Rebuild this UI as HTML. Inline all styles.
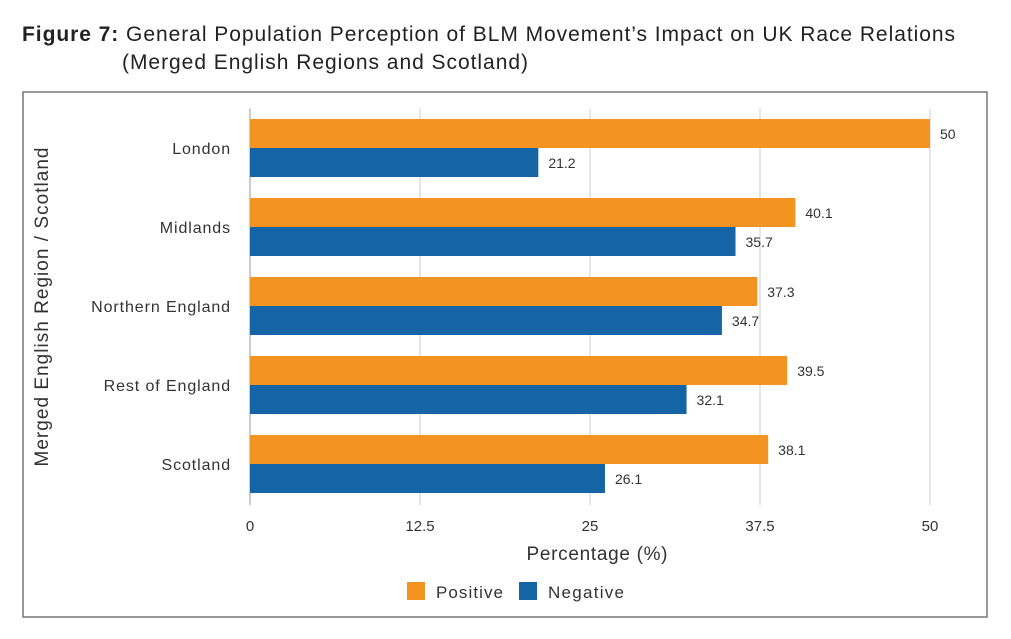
<!DOCTYPE html>
<html><head><meta charset="utf-8"><style>
body{margin:0;background:#fff;width:1011px;height:639px;overflow:hidden;font-family:"Liberation Sans",sans-serif}
svg{position:absolute;left:0;top:0}
</style></head><body>
<svg width="1011" height="639">
<text x="22" y="41" font-size="21" fill="#222" textLength="933" lengthAdjust="spacing"><tspan font-weight="bold">Figure 7:</tspan> General Population Perception of BLM Movement’s Impact on UK Race Relations</text>
<text x="122" y="69" font-size="21" fill="#222" textLength="406" lengthAdjust="spacing">(Merged English Regions and Scotland)</text>
<rect x="23" y="92" width="964" height="525" fill="none" stroke="#777" stroke-width="1.5"/>
<g id="grid"></g><g id="bars"></g><g id="labels"></g>
<text transform="translate(48,307) rotate(-90)" text-anchor="middle" font-size="19" fill="#333" textLength="319" lengthAdjust="spacing">Merged English Region / Scotland</text>
<text x="597" y="560" text-anchor="middle" font-size="19" fill="#333" textLength="141" lengthAdjust="spacing">Percentage (%)</text>
<rect x="407" y="582" width="18" height="18" fill="#F39322"/>
<text x="436" y="598" font-size="17" fill="#333" textLength="67" lengthAdjust="spacing">Positive</text>
<rect x="519" y="582" width="18" height="18" fill="#1565A6"/>
<text x="548" y="598" font-size="17" fill="#333" textLength="76" lengthAdjust="spacing">Negative</text>
</svg>
<script>
const categories=["London","Midlands","Northern England","Rest of England","Scotland"];
const positive=[50,40.1,37.3,39.5,38.1];
const negative=[21.2,35.7,34.7,32.1,26.1];
const ticks=[0,12.5,25,37.5,50];
const tickLabels=["0","12.5","25","37.5","50"];
const NS="http://www.w3.org/2000/svg";
const x=v=>250+v*13.6;
const top0=108.5,band=79;
function mk(tag,attrs,parent,txt){const e=document.createElementNS(NS,tag);for(const k in attrs)e.setAttribute(k,attrs[k]);if(txt!==undefined)e.textContent=txt;document.getElementById(parent).appendChild(e);return e;}
ticks.forEach((t,i)=>{
 const g=mk('line',{x1:x(t),x2:x(t),y1:top0,y2:505,stroke:i==0?'#999':'#ccc','stroke-width':1},'grid');
 
 
 const l=mk('text',{x:x(t),y:531,'text-anchor':'middle','font-size':15,fill:'#333'},'labels',tickLabels[i]);
 
 
});
categories.forEach((c,i)=>{
 const cy=top0+band*i+band/2;
 const cl=mk('text',{x:231,y:cy+6,'text-anchor':'end','font-size':16,fill:'#333','letter-spacing':0.9},'labels',c);
 
 
 const bp=mk('rect',{x:x(0),y:cy-29,width:x(positive[i])-x(0),height:29,fill:'#F39322'},'bars');
 
 
 const bn=mk('rect',{x:x(0),y:cy,width:x(negative[i])-x(0),height:29,fill:'#1565A6'},'bars');
 
 
 const vp=mk('text',{x:x(positive[i])+10,y:cy-9,'font-size':14,fill:'#333'},'labels',String(positive[i]));
 
 
 const vn=mk('text',{x:x(negative[i])+10,y:cy+20,'font-size':14,fill:'#333'},'labels',String(negative[i]));
 
 
});
</script>
</body></html>
